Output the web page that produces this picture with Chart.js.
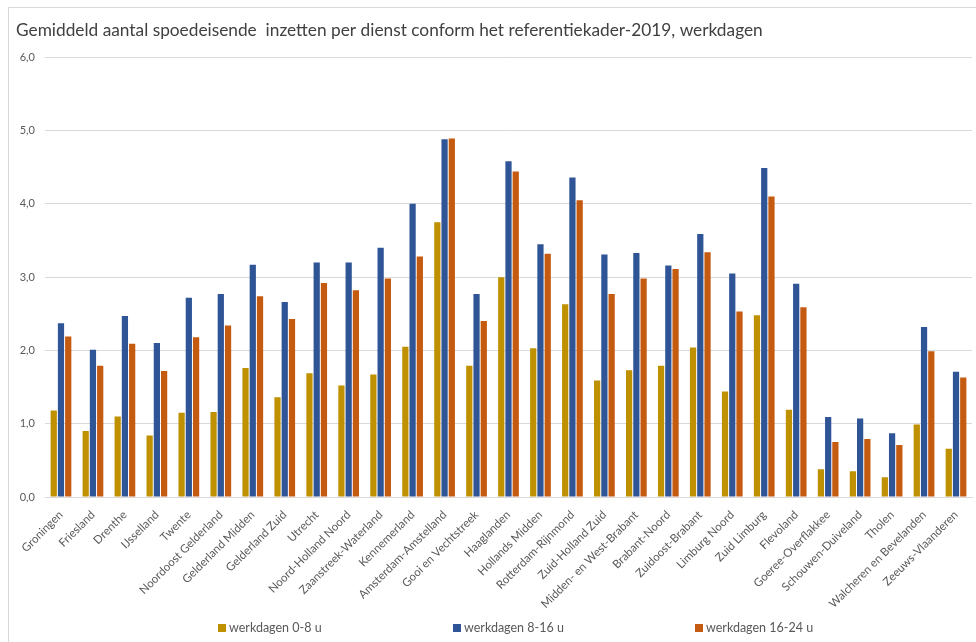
<!DOCTYPE html>
<html>
<head>
<meta charset="utf-8">
<script src="https://cdn.jsdelivr.net/npm/chart.js@4"></script>
<style>
  html, body { margin: 0; padding: 0; background: #fff; }
  .wrap { position: relative; width: 976px; height: 642px; overflow: hidden; }
  .frame { position: absolute; left: 8px; top: 7px; width: 990px; height: 660px; border: 1px solid #d9d9d9; box-sizing: border-box; }
  canvas { position: absolute; left: 0; top: 0; }
  .legende { position: absolute; top: 620px; left: 0; height: 16px; font: 12.5px Lato, "Open Sans", sans-serif; color: #595959; }
  .legende span { position: absolute; white-space: nowrap; line-height: 16px; }
  .legende i { display: inline-block; width: 8px; height: 8px; margin-right: 3px; vertical-align: 0px; }
</style>
</head>
<body>
<div class="wrap">
  <div class="frame"></div>
  <canvas id="barChart" width="976" height="642"></canvas>
  <div class="legende" id="legende"></div>
</div>
<script>
// Categorieën (meldkamers / regio's)
const regios = [
  'Groningen', 'Friesland', 'Drenthe', 'IJsselland', 'Twente', 'Noordoost Gelderland',
  'Gelderland Midden', 'Gelderland Zuid', 'Utrecht', 'Noord-Holland Noord',
  'Zaanstreek-Waterland', 'Kennemerland', 'Amsterdam-Amstelland', 'Gooi en Vechtstreek',
  'Haaglanden', 'Hollands Midden', 'Rotterdam-Rijnmond', 'Zuid-Holland Zuid',
  'Midden- en West-Brabant', 'Brabant-Noord', 'Zuidoost-Brabant', 'Limburg Noord',
  'Zuid Limburg', 'Flevoland', 'Goeree-Overflakkee', 'Schouwen-Duiveland', 'Tholen',
  'Walcheren en Bevelanden', 'Zeeuws-Vlaanderen'
];

// Gemiddeld aantal inzetten per dienst
const dienst0_8 = [1.18, 0.90, 1.10, 0.84, 1.15, 1.16, 1.76, 1.36, 1.69, 1.52,
  1.67, 2.05, 3.75, 1.79, 3.00, 2.03, 2.63, 1.59, 1.73, 1.79, 2.04, 1.44,
  2.48, 1.19, 0.38, 0.35, 0.27, 0.99, 0.66];
const dienst8_16 = [2.37, 2.01, 2.47, 2.10, 2.72, 2.77, 3.17, 2.66, 3.20, 3.20,
  3.40, 4.00, 4.88, 2.77, 4.58, 3.45, 4.36, 3.31, 3.33, 3.16, 3.59, 3.05,
  4.49, 2.91, 1.09, 1.07, 0.87, 2.32, 1.71];
const dienst16_24 = [2.19, 1.79, 2.09, 1.72, 2.18, 2.34, 2.74, 2.43, 2.92, 2.82,
  2.98, 3.28, 4.89, 2.40, 4.44, 3.32, 4.05, 2.77, 2.98, 3.11, 3.34, 2.53,
  4.10, 2.59, 0.75, 0.79, 0.71, 1.99, 1.63];

const reeksNamen = ['werkdagen 0-8 u', 'werkdagen 8-16 u', 'werkdagen 16-24 u'];
const kleuren = ['#BF9000', '#2F5597', '#C55A11'];

const lettertype = 'Lato, "Open Sans", sans-serif';

var ctx = document.getElementById('barChart').getContext('2d');
new Chart(ctx, {
  type: 'bar',
  data: {
    labels: regios,
    datasets: [dienst0_8, dienst8_16, dienst16_24].map((waarden, i) => ({
      label: reeksNamen[i],
      data: waarden,
      backgroundColor: kleuren[i],
      borderWidth: 0,
      barPercentage: 0.86,
      categoryPercentage: 0.68
    }))
  },
  options: {
    responsive: false,
    animation: false,
    layout: { padding: { left: 16, right: 4, top: 20, bottom: 10 } },
    plugins: {
      title: {
        display: true,
        align: 'start',
        text: 'Gemiddeld aantal spoedeisende  inzetten per dienst conform het referentiekader-2019, werkdagen',
        color: '#404040',
        font: { family: lettertype, size: 17.3, weight: 'normal' },
        padding: { top: 0, bottom: 16.5 }
      },
      legend: { display: false },
      tooltip: { enabled: false }
    },
    scales: {
      x: {
        grid: { display: false },
        border: { color: '#d9d9d9' },
        afterFit: function(scale) { scale.height = 135; },
        ticks: {
          color: '#595959',
          font: { family: lettertype, size: 11.5 },
          maxRotation: 45,
          minRotation: 45,
          autoSkip: false
        }
      },
      y: {
        min: 0,
        max: 6,
        grid: { color: '#d9d9d9', drawTicks: false },
        border: { display: false },
        afterFit: function(scale) { scale.width = 29; },
        ticks: {
          stepSize: 1,
          padding: 10,
          color: '#595959',
          font: { family: lettertype, size: 11 },
          callback: v => v.toFixed(1).replace('.', ',')
        }
      }
    }
  }
});

// Legenda onderaan, breed verdeeld zoals in het origineel
const legendeX = [218, 453, 695];
const legende = document.getElementById('legende');
reeksNamen.forEach((naam, i) => {
  const item = document.createElement('span');
  item.style.left = legendeX[i] + 'px';
  item.innerHTML = `<i style="background:${kleuren[i]}"></i>${naam}`;
  legende.appendChild(item);
});
</script>
</body>
</html>
